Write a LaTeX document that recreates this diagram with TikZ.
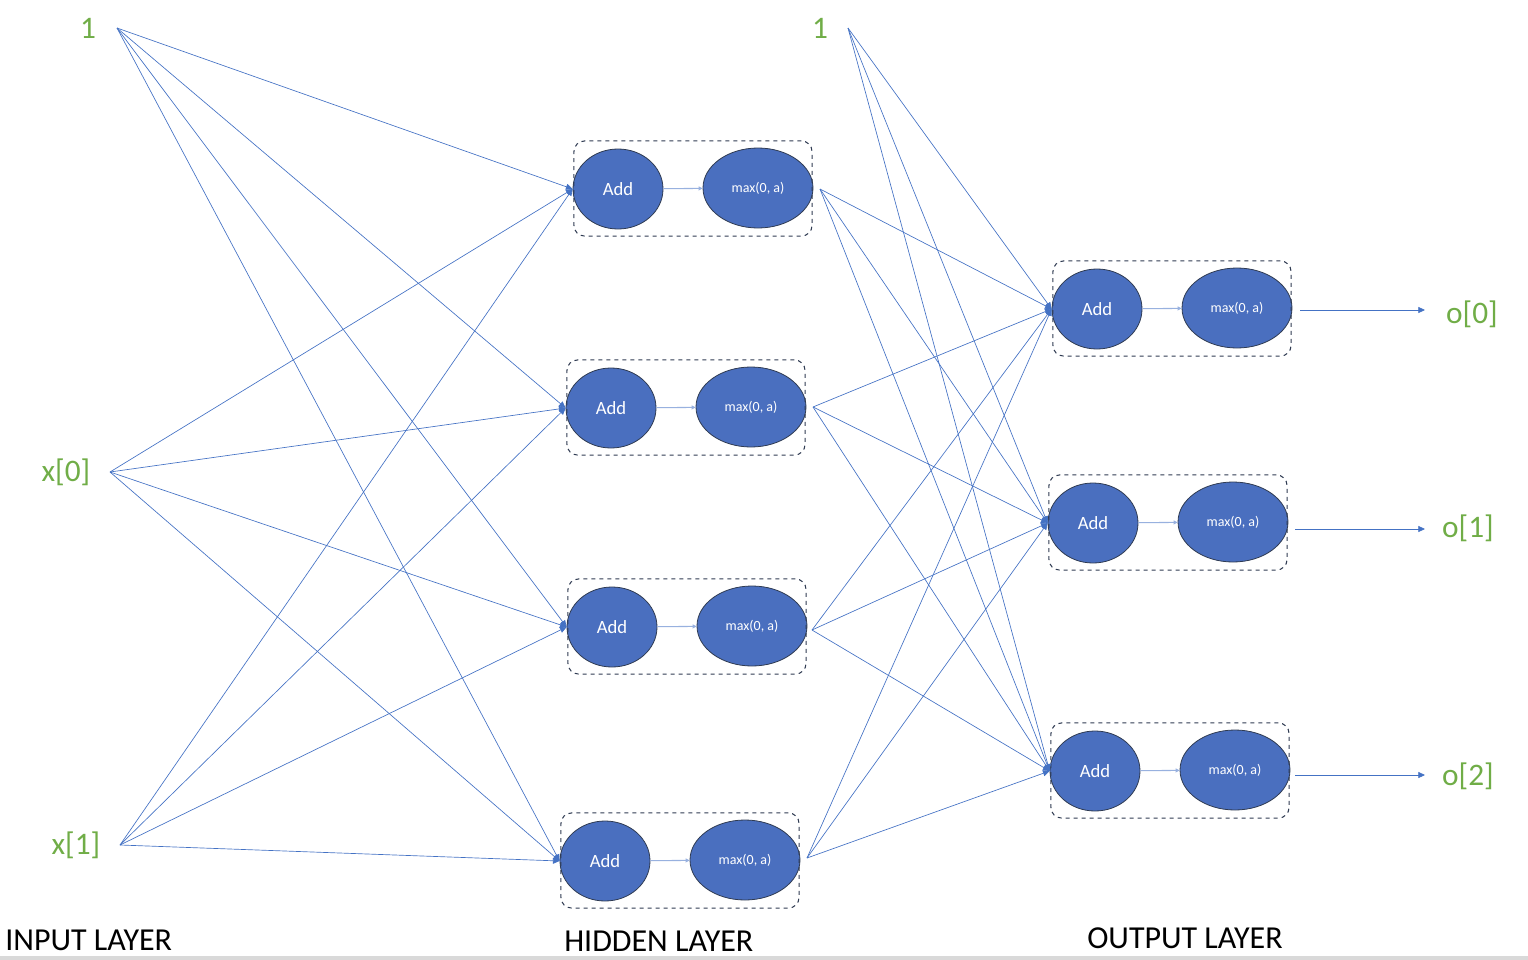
\documentclass[tikz,border=0pt]{standalone}
\usepackage{fontspec}
\setmainfont{Carlito}
\usetikzlibrary{shapes.geometric,arrows.meta,fit}
\definecolor{obl}{HTML}{4472C4}
\definecolor{fil}{HTML}{4A6FBF}
\definecolor{ogr}{HTML}{70AD47}
\definecolor{odk}{HTML}{2F3B52}
\newcommand\mkblock[3]{%
  \node[addn] (#1a) at (#2,#3) {Add};
  \node[maxn] (#1m) at (#2+140,#3-1) {max(0, a)};
  \draw[innerarr] (#1a) -- (#1m);
  \node[grp,fit=(#1a)(#1m)] (#1b) {};
}
\begin{document}
\begin{tikzpicture}[x=0.75pt,y=-0.75pt,
  addn/.style={ellipse,draw=odk,line width=0.6pt,fill=fil,text=white,minimum width=67.5pt,minimum height=60pt,inner sep=0pt,font=\fontsize{14}{16}\selectfont},
  maxn/.style={ellipse,draw=odk,line width=0.6pt,fill=fil,text=white,minimum width=82.5pt,minimum height=60pt,inner sep=0pt,font=\fontsize{10.5}{12}\selectfont},
  grp/.style={draw=odk,dashed,rounded corners=8pt,line width=0.8pt,inner xsep=-1pt,inner ysep=5pt},
  lbl/.style={text=ogr,font=\fontsize{23.5}{26}\selectfont},
  layer/.style={font=\fontsize{24}{27}\selectfont,anchor=base west,inner sep=0pt},
  wire/.style={draw=obl,line width=0.5pt,-{Triangle[length=5pt,width=4.5pt]}},
  innerarr/.style={draw=obl!55,line width=0.8pt,-{Triangle[length=3pt,width=3pt]}}
]
\useasboundingbox (0,0) rectangle (1528,960);
\fill[black!15] (0,956) rectangle (1528,960);

% input labels and source points
\node[lbl] (l1) at (88,28) {1};
\node[lbl] (lx0) at (66,472) {x[0]};
\node[lbl] (lx1) at (76,845) {x[1]};
\node[lbl] (l2) at (820,28) {1};
\coordinate (i1) at (117,28);
\coordinate (i2) at (110,472);
\coordinate (i3) at (120,845);
\coordinate (s2) at (848,28);

% hidden layer
\mkblock{h1}{618}{189}
\mkblock{h2}{611}{408}
\mkblock{h3}{612}{627}
\mkblock{h4}{605}{861}
\coordinate (h1o) at (820,189);
\coordinate (h2o) at (813,407);
\coordinate (h3o) at (812,630);
\coordinate (h4o) at (807,858);

% output layer
\mkblock{o1}{1097}{309}
\mkblock{o2}{1093}{523}
\mkblock{o3}{1095}{771}

\foreach \src in {i1,i2,i3}
  \foreach \dst in {h1,h2,h3,h4}
    \draw[wire] (\src) -- (\dst a.west);
\foreach \src in {s2,h1o,h2o,h3o,h4o}
  \foreach \dst in {o1,o2,o3}
    \draw[wire] (\src) -- (\dst a.west);

% outputs
\coordinate (o1t) at (1425,310);
\coordinate (o2t) at (1425,529);
\coordinate (o3t) at (1425,775);
\draw[wire] (1300,310) -- (o1t);
\draw[wire] (1295,529) -- (o2t);
\draw[wire] (1295,775) -- (o3t);
\node[lbl] (lo0) at (1472,314) {o[0]};
\node[lbl] (lo1) at (1468,528) {o[1]};
\node[lbl] (lo2) at (1468,776) {o[2]};

% layer captions
\node[layer] (cin) at (5,950) {INPUT LAYER};
\node[layer] (chid) at (564,951) {HIDDEN LAYER};
\node[layer] (cout) at (1087,948) {OUTPUT LAYER};
\end{tikzpicture}
\end{document}
